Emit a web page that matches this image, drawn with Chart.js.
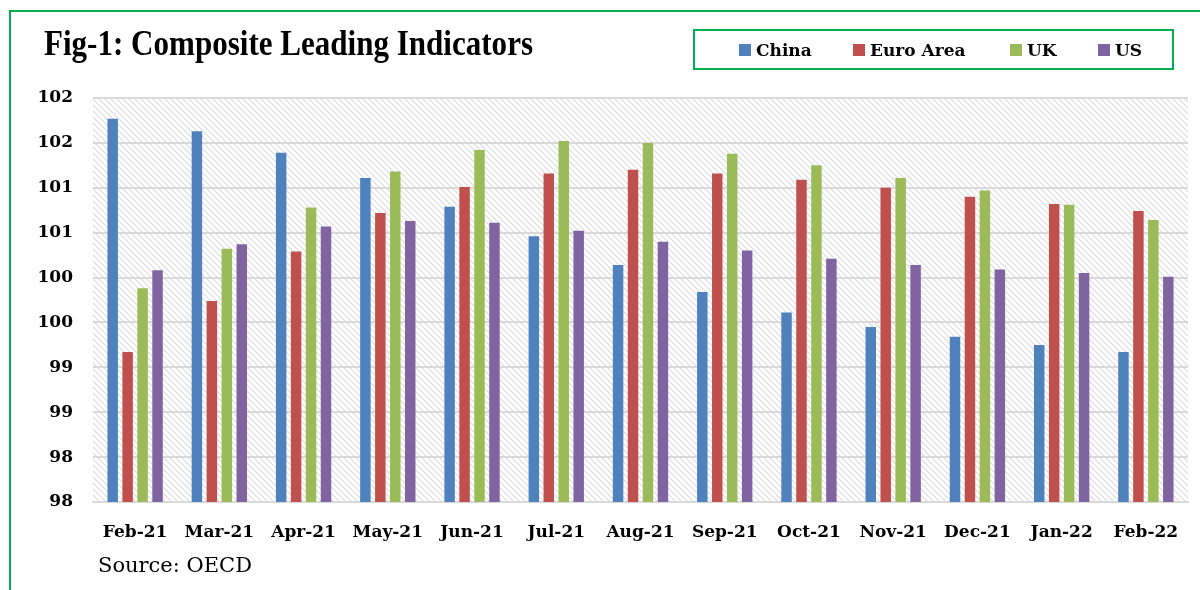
<!DOCTYPE html>
<html lang="en">
<head>
  <meta charset="UTF-8">
  <title>Composite Leading Indicators</title>
  <script src="https://cdn.jsdelivr.net/npm/chart.js"></script>
  <style>
    body { margin: 0; background: #fff; }
    #wrap { position: relative; width: 1200px; height: 590px; overflow: hidden; }
    #frame { position: absolute; left: 9px; top: 10px; width: 1300px; height: 700px;
             border-left: 2px solid #00b050; border-top: 2px solid #00b050; }
    #titulo { position: absolute; left: 44px; top: 22px; margin: 0; white-space: nowrap;
              font: bold 36px "Liberation Serif", serif; color: #000; transform-origin: 0 0; }
    #legenda { position: absolute; left: 693px; top: 29px; width: 477px; height: 37px;
               border: 2px solid #00b050; font: bold 17px "DejaVu Serif", serif; }
    .item { position: absolute; top: 9px; white-space: nowrap; }
    .item i { display: inline-block; width: 12px; height: 12px; margin-right: 5px; vertical-align: 0px; }
    #fonte { position: absolute; left: 98px; top: 553px; font: 21px "DejaVu Serif", serif; }
    canvas { position: absolute; left: 0; top: 0; }
  </style>
</head>
<body>
  <div id="wrap">
    <div id="frame"></div>
    <canvas id="grafico" width="1200" height="590"></canvas>
    <p id="titulo">Fig-1: Composite Leading Indicators</p>
    <div id="legenda"></div>
    <div id="fonte">Source: OECD</div>
  </div>

  <script>
    const meses = ['Feb-21', 'Mar-21', 'Apr-21', 'May-21', 'Jun-21', 'Jul-21', 'Aug-21',
                   'Sep-21', 'Oct-21', 'Nov-21', 'Dec-21', 'Jan-22', 'Feb-22'];
    const china = [101.77, 101.63, 101.39, 101.11, 100.79, 100.46, 100.14, 99.84, 99.61, 99.45, 99.34, 99.25, 99.17];
    const euro  = [99.17, 99.74, 100.29, 100.72, 101.01, 101.16, 101.20, 101.16, 101.09, 101.00, 100.90, 100.82, 100.74];
    const uk    = [99.88, 100.32, 100.78, 101.18, 101.42, 101.52, 101.50, 101.38, 101.25, 101.11, 100.97, 100.81, 100.64];
    const us    = [100.08, 100.37, 100.57, 100.63, 100.61, 100.52, 100.40, 100.30, 100.21, 100.14, 100.09, 100.05, 100.01];

    const series = [
      { nome: 'China', dados: china, cor: '#4f81bd', x: 44 },
      { nome: 'Euro Area', dados: euro, cor: '#c0504d', x: 158 },
      { nome: 'UK', dados: uk, cor: '#9bbb59', x: 315 },
      { nome: 'US', dados: us, cor: '#8064a2', x: 403 }
    ];

    // legenda em html
    const leg = document.getElementById('legenda');
    series.forEach(s => {
      const d = document.createElement('span');
      d.className = 'item';
      d.style.left = s.x + 'px';
      d.innerHTML = `<i style="background:${s.cor}"></i>${s.nome}`;
      leg.appendChild(d);
    });

    // titulo mais estreito, como no original
    const tit = document.getElementById('titulo');
    tit.style.transform = `scaleX(${489 / tit.getBoundingClientRect().width})`;

    // fundo hachurado da area do grafico
    function hachura(ctx) {
      const c = document.createElement('canvas');
      c.width = 6; c.height = 6;
      const p = c.getContext('2d');
      p.strokeStyle = '#dcdcdc';
      p.lineWidth = 1.2;
      p.beginPath();
      p.moveTo(-1, -1); p.lineTo(7, 7);
      p.moveTo(-1, 5); p.lineTo(1, 7);
      p.moveTo(5, -1); p.lineTo(7, 1);
      p.stroke();
      return ctx.createPattern(c, 'repeat');
    }

    const fundo = {
      id: 'fundo',
      beforeDraw(chart) {
        const { ctx, chartArea: a } = chart;
        ctx.save();
        ctx.fillStyle = hachura(ctx);
        ctx.fillRect(a.left, a.top, a.right - a.left, a.bottom - a.top);
        ctx.restore();
      }
    };

    const fonteEixo = { family: 'DejaVu Serif', size: 17, weight: 'bold' };

    new Chart(document.getElementById('grafico'), {
      type: 'bar',
      data: {
        labels: meses,
        datasets: series.map(s => ({
          label: s.nome,
          data: s.dados,
          backgroundColor: s.cor,
          barPercentage: 0.7,
          categoryPercentage: 0.71
        }))
      },
      options: {
        responsive: false,
        animation: false,
        layout: { padding: { left: 0, top: 98, right: 12, bottom: 0 } },
        plugins: { legend: { display: false }, tooltip: { enabled: false } },
        scales: {
          x: {
            grid: { display: false },
            border: { display: true, color: '#d9d9d9', width: 2 },
            ticks: { color: '#000', font: fonteEixo, padding: 12, maxRotation: 0 },
            afterFit: s => { s.height = 88; }
          },
          y: {
            min: 97.5,
            max: 102,
            grid: { color: '#d9d9d9', lineWidth: 2, drawTicks: false },
            border: { display: false },
            ticks: {
              stepSize: 0.5,
              color: '#000',
              font: fonteEixo,
              padding: 20,
              callback: v => Math.round(v)
            },
            afterFit: s => { s.width = 93; }
          }
        }
      },
      plugins: [fundo]
    });
  </script>
</body>
</html>
